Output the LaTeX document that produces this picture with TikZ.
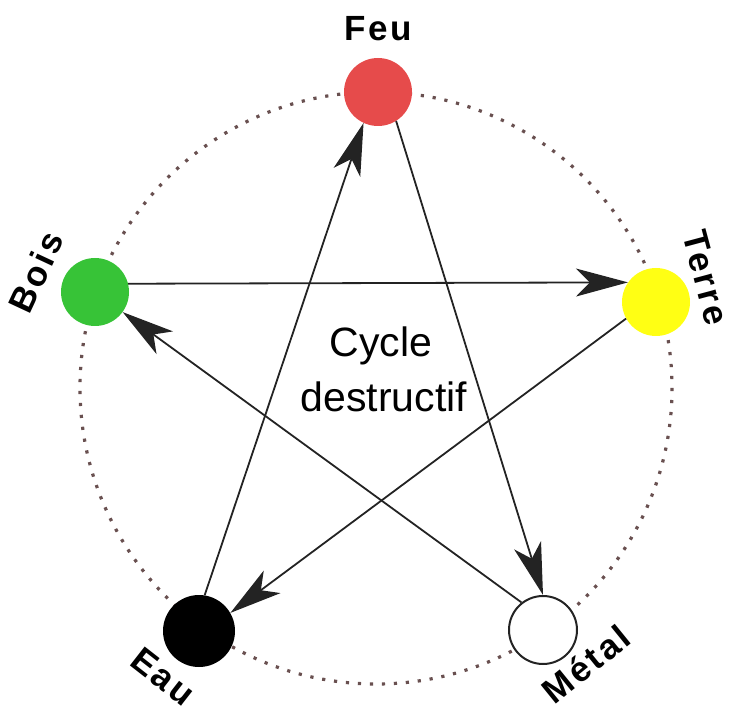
\documentclass[tikz,border=0pt]{standalone}
\usepackage{fontspec}
\setmainfont{Liberation Sans}
\newfontfamily\lblfont[LetterSpace=8]{Liberation Sans}
\usetikzlibrary{arrows.meta}
\definecolor{feucol}{RGB}{230,75,75}
\definecolor{boiscol}{RGB}{55,195,55}
\definecolor{terrecol}{RGB}{255,255,20}
\definecolor{dotcol}{RGB}{105,80,80}
\definecolor{linecol}{RGB}{35,35,35}
\begin{document}
\begin{tikzpicture}[x=1pt,y=-1pt,
  elem/.style={circle,minimum size=68pt,inner sep=0pt},
  lbl/.style={font=\lblfont\fontsize{35}{40}\selectfont\bfseries,inner sep=0pt},
  arr/.style={line width=1.8pt,draw=linecol,-{Stealth[length=52pt,width=28pt,inset=14pt]}}]
\useasboundingbox (0,0) rectangle (731,708);
\draw[dotcol,line width=3.2pt,dash pattern=on 3.2pt off 8.8pt] (376,388) circle[radius=296];
\node[elem,fill=feucol] (feu) at (378,92) {};
\node[elem,fill=boiscol] (bois) at (95,292) {};
\node[elem,fill=terrecol] (terre) at (656,302) {};
\node[elem,fill=black,minimum size=72pt] (eau) at (199,631) {};
\node[elem,fill=white,draw=linecol,line width=2pt] (metal) at (543,630) {};
\node[lbl] (lfeu) at (378,29) {Feu};
\node[lbl,rotate=65] (lbois) at (36,272) {Bois};
\node[lbl,rotate=-75] (lterre) at (706,278) {Terre};
\node[lbl,rotate=-38] (leau) at (163,677) {Eau};
\node[lbl,rotate=39] (lmetal) at (586,664) {Métal};
\node[font=\fontsize{41}{50}\selectfont,inner sep=0pt,anchor=base] (cyc1) at (381,357) {Cycle};
\node[font=\fontsize{41}{50}\selectfont,inner sep=0pt,anchor=base] (cyc2) at (384,412) {destructif};
\draw[arr] (bois.14) -- (terre.145);
\draw[arr] (feu.-58) -- (metal.90);
\draw[arr] (eau.81) -- (feu.245);
\draw[arr] (terre.209) -- (eau.30);
\draw[arr] (metal.128) -- (bois.-36);
\end{tikzpicture}
\end{document}
